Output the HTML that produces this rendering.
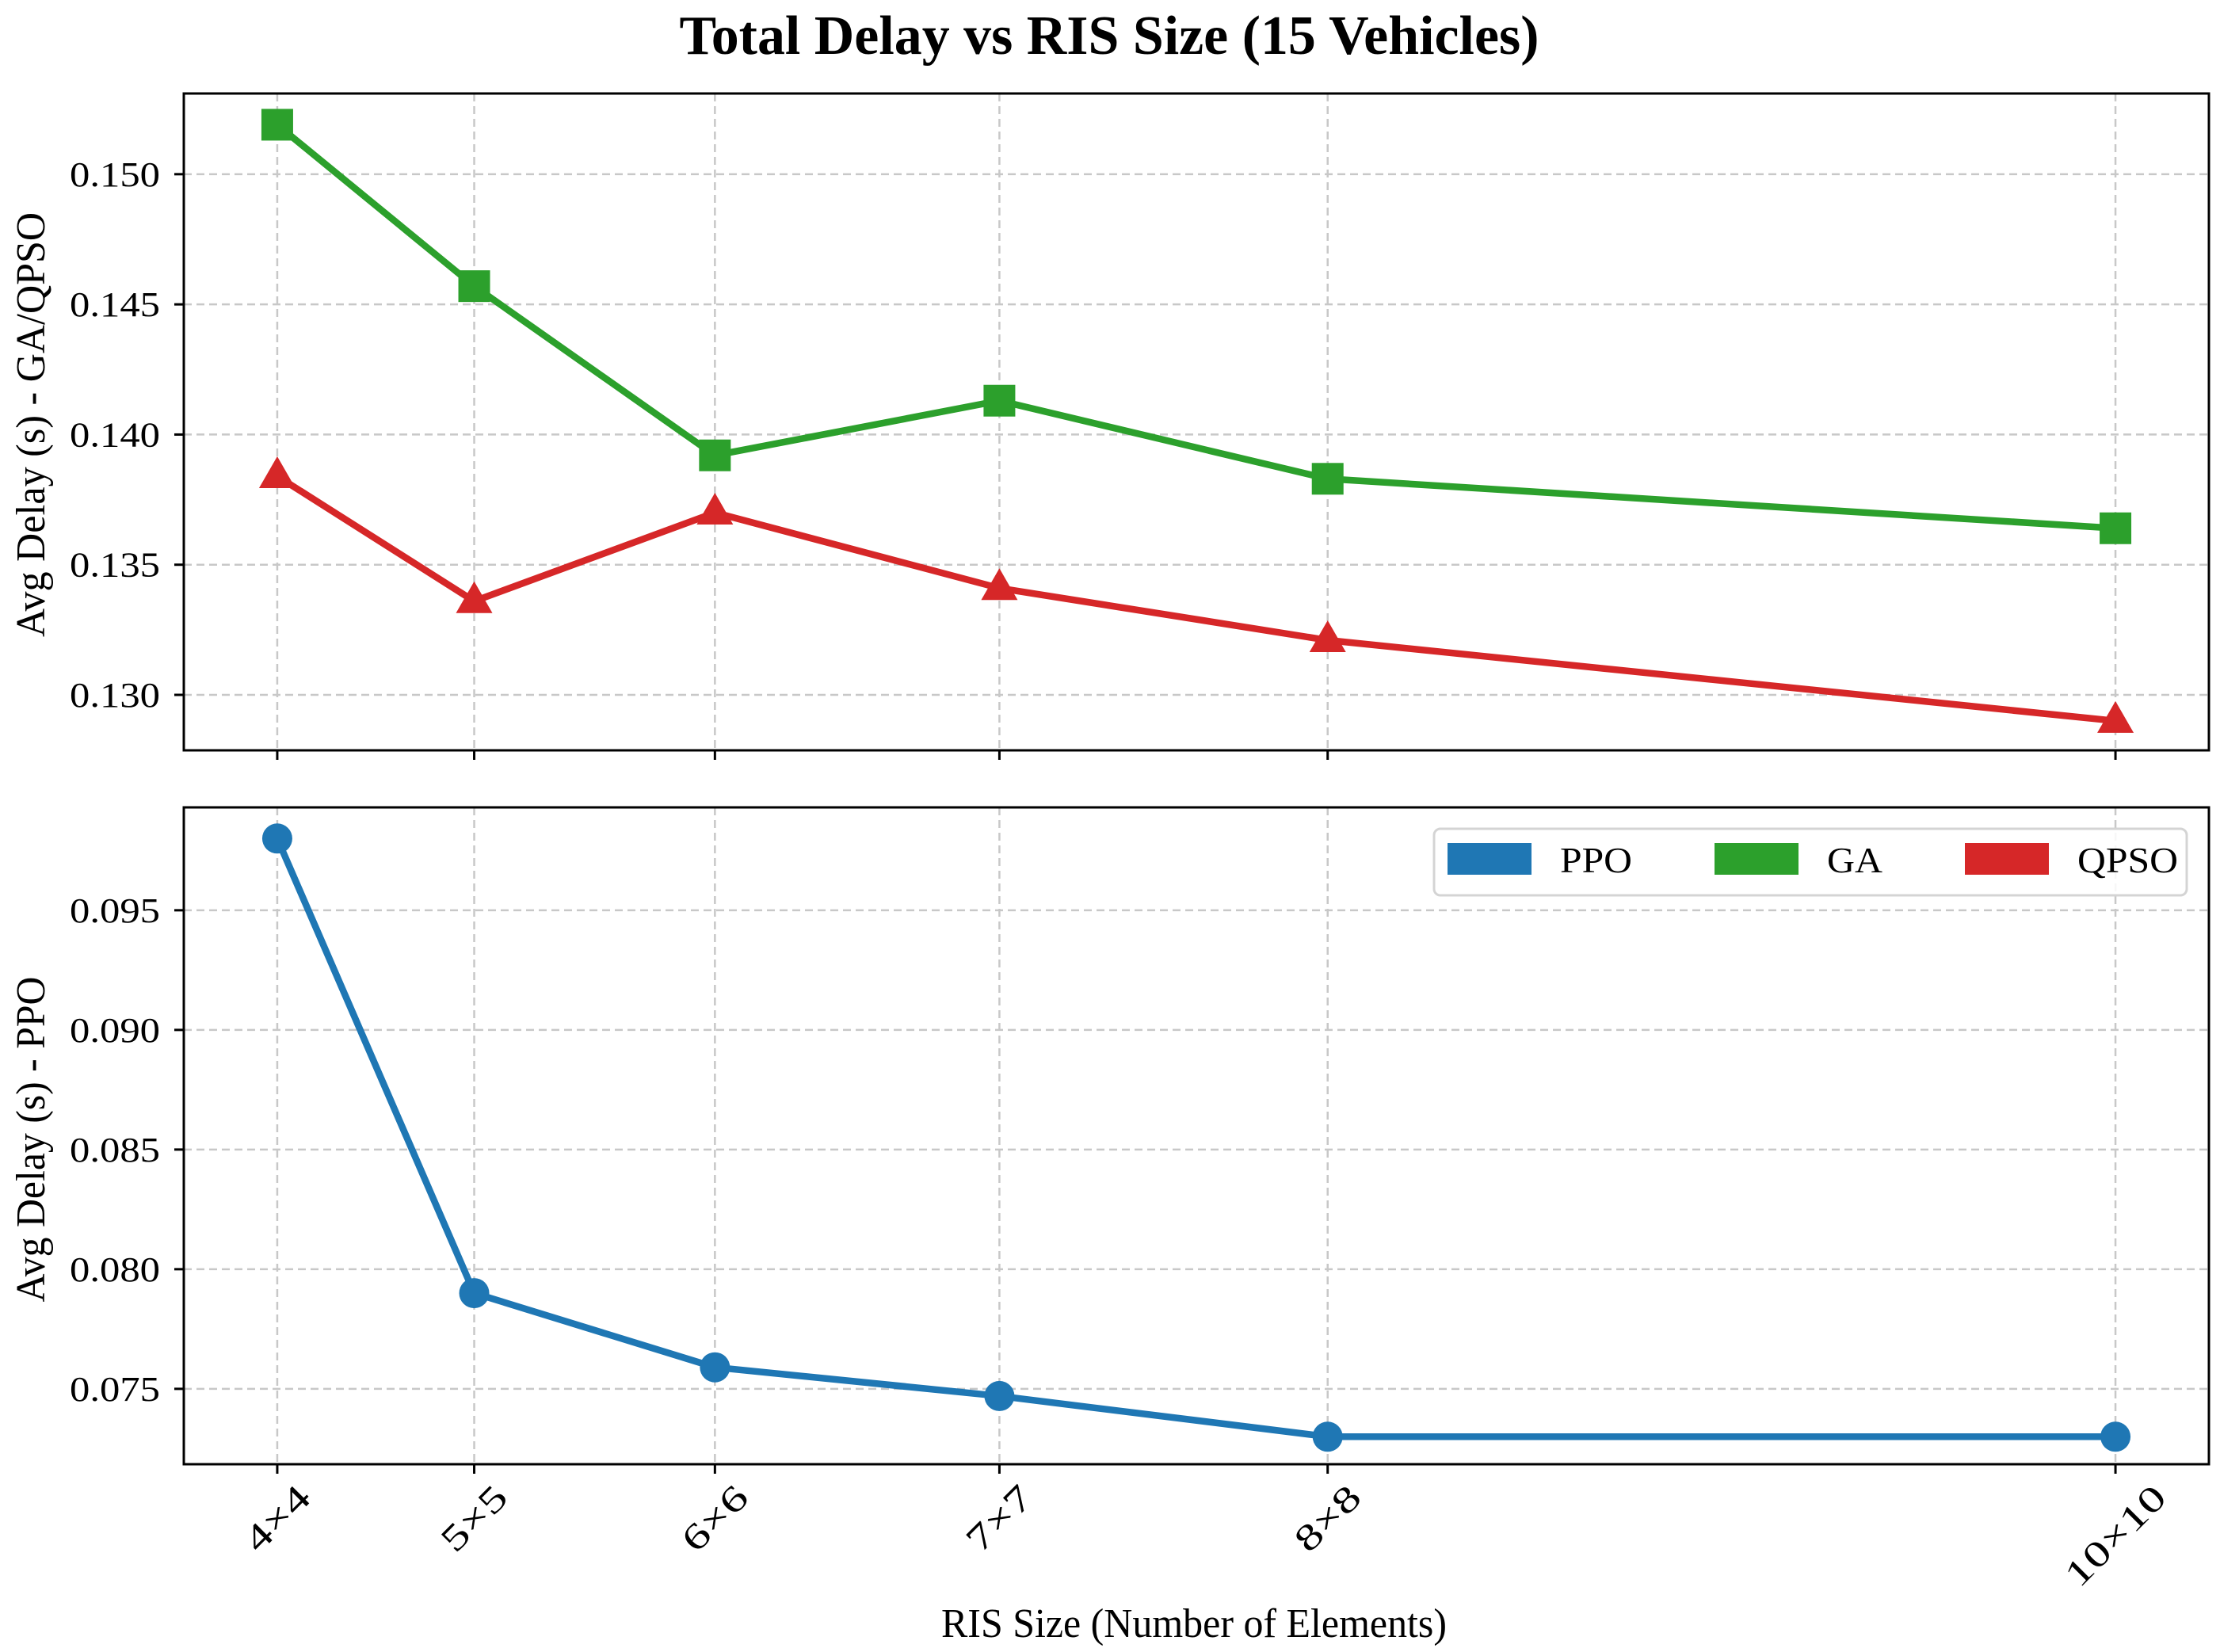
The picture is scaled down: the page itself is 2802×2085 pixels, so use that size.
<!DOCTYPE html>
<html><head><meta charset="utf-8"><style>
body{margin:0;background:#fff}
svg{display:block;font-family:"Liberation Serif",serif}
</style></head><body>
<svg id="chart" width="2802" height="2085" viewBox="0 0 2802 2085" xmlns="http://www.w3.org/2000/svg">
<text x="1400" y="68" text-anchor="middle" font-size="70" font-weight="bold" textLength="1085" lengthAdjust="spacingAndGlyphs">Total Delay vs RIS Size (15 Vehicles)</text>
<g id="top"></g><g id="bot"></g>
<text x="1507" y="2066" text-anchor="middle" font-size="52" textLength="638" lengthAdjust="spacingAndGlyphs">RIS Size (Number of Elements)</text>
<text transform="translate(56,536) rotate(-90)" text-anchor="middle" font-size="52" textLength="536" lengthAdjust="spacingAndGlyphs">Avg Delay (s) - GA/QPSO</text>
<text transform="translate(56,1438) rotate(-90)" text-anchor="middle" font-size="52" textLength="411" lengthAdjust="spacingAndGlyphs">Avg Delay (s) - PPO</text>
</svg>
<script>
const categories=["4×4","5×5","6×6","7×7","8×8","10×10"];
const elements=[16,25,36,49,64,100];
const gaValues=[0.1519,0.1457,0.1392,0.1413,0.1383,0.1364];
const qpsoValues=[0.1384,0.1336,0.1370,0.1341,0.1321,0.1290];
const ppoValues=[0.0980,0.0790,0.0759,0.0747,0.0730,0.0730];
const topTicks=["0.130","0.135","0.140","0.145","0.150"];
const botTicks=["0.075","0.080","0.085","0.090","0.095"];
const legendLabels=["PPO","GA","QPSO"];

const NS="http://www.w3.org/2000/svg";
const svg=document.getElementById('chart');
const L=232,R=2788;
const xMin=11.73,xMax=104.27;
const xs=v=>L+(v-xMin)/(xMax-xMin)*(R-L);
function mk(p,tag,a){const e=document.createElementNS(NS,tag);for(const k in a)e.setAttribute(k,a[k]);p.appendChild(e);return e;}

function panel(g,top,bottom,yMin,yMax,ticks,name){
  const ys=v=>bottom-(v-yMin)/(yMax-yMin)*(bottom-top);
  elements.forEach((v,i)=>{
    const l=mk(g,'line',{x1:xs(v),x2:xs(v),y1:top,y2:bottom,stroke:'#c8c8c8','stroke-width':2.5,'stroke-dasharray':'10,6'});
    
    
    const t=mk(g,'line',{x1:xs(v),x2:xs(v),y1:bottom,y2:bottom+12,stroke:'#000','stroke-width':3});
    
    
  });
  ticks.forEach(s=>{
    const y=ys(parseFloat(s));
    const l=mk(g,'line',{x1:L,x2:R,y1:y,y2:y,stroke:'#c8c8c8','stroke-width':2.5,'stroke-dasharray':'10,6'});
    
    
    const t=mk(g,'line',{x1:L-12,x2:L,y1:y,y2:y,stroke:'#000','stroke-width':3});
    
    
    const tx=mk(g,'text',{x:L-30,y:y+15,'text-anchor':'end','font-size':44,textLength:114,lengthAdjust:'spacingAndGlyphs'});
    tx.textContent=s;
    
    
  });
  const f=mk(g,'rect',{x:L,y:top,width:R-L,height:bottom-top,fill:'none',stroke:'#000','stroke-width':3});
  
  
  return ys;
}
function series(g,ys,vals,color,marker,name){
  const pts=vals.map((v,i)=>[xs(elements[i]),ys(v)]);
  const p=mk(g,'polyline',{points:pts.map(p=>p.join(',')).join(' '),fill:'none',stroke:color,'stroke-width':8.5,'stroke-linejoin':'round'});
  
  
  pts.forEach(([x,y])=>{
    let m;
    if(marker==='s') m=mk(g,'rect',{x:x-20,y:y-20,width:40,height:40,fill:color});
    else if(marker==='^') m=mk(g,'polygon',{points:`${x},${y-25} ${x+23},${y+15} ${x-23},${y+15}`,fill:color});
    else m=mk(g,'circle',{cx:x,cy:y,r:19,fill:color});
    
    
  });
}
const gt=document.getElementById('top'),gb=document.getElementById('bot');
const yt=panel(gt,118,947,0.12787,0.1531,topTicks,'top-axes');
series(gt,yt,gaValues,'#2ca02c','s','ga');
series(gt,yt,qpsoValues,'#d62728','^','qpso');
const yb=panel(gb,1019,1848,0.07185,0.0993,botTicks,'bottom-axes');
series(gb,yb,ppoValues,'#1f77b4','o','ppo');

categories.forEach((c,i)=>{
  const x=xs(elements[i]);
  const t=mk(svg,'text',{'font-size':46,'text-anchor':'middle'});
  t.textContent=c;
  
  
  const w=t.getComputedTextLength()*1.35;
  t.setAttribute('textLength',w);
  t.setAttribute('lengthAdjust','spacingAndGlyphs');
  const cy=1868+(w*0.707+40*0.707)/2;
  t.setAttribute('transform',`translate(${x},${cy}) rotate(-45)`);
  t.setAttribute('y',15);
});

const lg=mk(svg,'g',{});


const lb=mk(lg,'rect',{x:1810,y:1046,width:950,height:84,rx:8,fill:'#fff','fill-opacity':0.85,stroke:'#d4d4d4','stroke-width':3});


const lcolors=['#1f77b4','#2ca02c','#d62728'];
const lx=[1827,2164,2480];
const lw=[91,70,127];
legendLabels.forEach((s,i)=>{
  const r=mk(lg,'rect',{x:lx[i],y:1064,width:106,height:40,fill:lcolors[i]});
  
  
  const t=mk(lg,'text',{x:lx[i]+142,y:1101,'font-size':46,textLength:lw[i],lengthAdjust:'spacingAndGlyphs'});
  t.textContent=s;
  
  
});
</script>
</body></html>
